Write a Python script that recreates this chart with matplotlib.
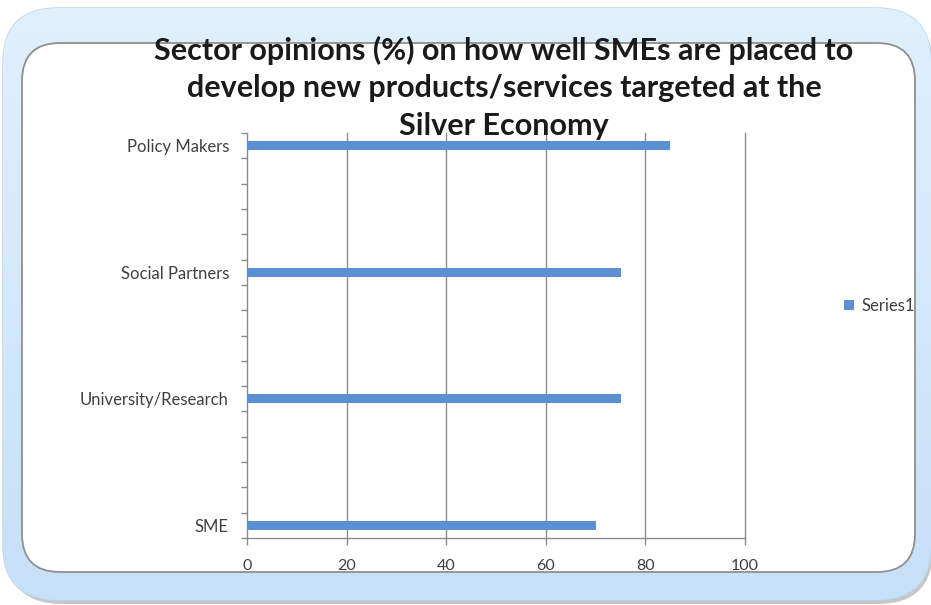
import matplotlib
matplotlib.use("Agg")
import matplotlib.pyplot as plt
from matplotlib.patches import FancyBboxPatch
import numpy as np

# category slots from bottom to top; the sheet has blank rows between sectors
slot_labels = ["SME", "", "", "", "",
               "University/Research", "", "", "", "",
               "Social Partners", "", "", "", "",
               "Policy Makers"]
slot_values = [70, np.nan, np.nan, np.nan, np.nan,
               75, np.nan, np.nan, np.nan, np.nan,
               75, np.nan, np.nan, np.nan, np.nan,
               85]
x_ticks = [0, 20, 40, 60, 80, 100]
series_name = "Series1"
title_lines = ["Sector opinions (%) on how well SMEs are placed to",
               "develop new products/services targeted at the",
               "Silver Economy"]

BAR_COLOR = "#5b8fd3"
AXIS_GRAY = "#8c8c8c"
TEXT_GRAY = "#404040"
FONT = "Lato"

W, H = 931, 605
fig = plt.figure(figsize=(W / 100, H / 100), dpi=100)

# rounded frame drawn in pixel coordinates
bg = fig.add_axes([0, 0, 1, 1], zorder=0)
bg.set_xlim(0, W)
bg.set_ylim(H, 0)
bg.axis("off")

shadow = FancyBboxPatch((7, 12), 926, 592, boxstyle="round,pad=0,rounding_size=55",
                        facecolor="#9a9a9a", edgecolor="none", alpha=0.55)
bg.add_patch(shadow)
outer = FancyBboxPatch((3, 8), 928, 592, boxstyle="round,pad=0,rounding_size=55",
                       facecolor="#c8e1f8", edgecolor="#b9d3ea", linewidth=1)
bg.add_patch(outer)
grad = np.linspace(0, 1, 256).reshape(-1, 1)
img = bg.imshow(grad, extent=[3, 931, 600, 8], aspect="auto",
                cmap=matplotlib.colors.LinearSegmentedColormap.from_list(
                    "frame", ["#e0f0fd", "#c6e0f8"]), zorder=1)
img.set_clip_path(outer)
inner = FancyBboxPatch((22, 43), 893, 529, boxstyle="round,pad=0,rounding_size=38",
                       facecolor="white", edgecolor="#8f8f8f", linewidth=1.3, zorder=2)
bg.add_patch(inner)

# bar chart
ax = fig.add_axes([247 / W, (H - 538) / H, 498 / W, 405 / H], zorder=1)
ax.patch.set_alpha(0)
pos = np.arange(len(slot_labels))
ax.barh(pos, slot_values, height=0.36, color=BAR_COLOR, label=series_name, zorder=3)

ax.set_xlim(0, 100)
ax.set_ylim(-0.5, len(slot_labels) - 0.5)
ax.set_xticks(x_ticks)
ax.set_xticklabels([str(t) for t in x_ticks], fontsize=11.5, color=TEXT_GRAY, family=FONT)
ax.tick_params(axis="x", direction="out", length=5, width=1, color=AXIS_GRAY, pad=10)
for x in x_ticks[1:]:
    ax.axvline(x, color=AXIS_GRAY, linewidth=1, zorder=1, clip_on=False)

ax.set_yticks(np.arange(len(slot_labels) + 1) - 0.5)
ax.set_yticklabels([])
ax.tick_params(axis="y", which="major", direction="out", length=4, width=1, color=AXIS_GRAY)
ax.set_yticks(pos, minor=True)
ax.set_yticklabels(slot_labels, minor=True, fontsize=12, color=TEXT_GRAY, family=FONT)
ax.tick_params(axis="y", which="minor", length=0, pad=13)

for side in ("top", "right"):
    ax.spines[side].set_visible(False)
for side in ("left", "bottom"):
    ax.spines[side].set_color(AXIS_GRAY)
    ax.spines[side].set_linewidth(1)

leg = ax.legend(loc="center left", bbox_to_anchor=(836 / W, (H - 306) / H),
                bbox_transform=fig.transFigure, frameon=False, handlelength=0.6,
                handleheight=0.6, handletextpad=0.4, borderpad=0,
                prop={"family": FONT, "size": 12})
for t in leg.get_texts():
    t.set_color(TEXT_GRAY)

# title, one line at a time
for line, y in zip(title_lines, [50, 88, 126]):
    fig.text(504 / W, (H - y) / H, line, ha="center", va="center", fontsize=22,
             fontweight="bold", family=FONT, color="#1a1a1a", zorder=5)

fig.savefig("out.png", dpi=100)
